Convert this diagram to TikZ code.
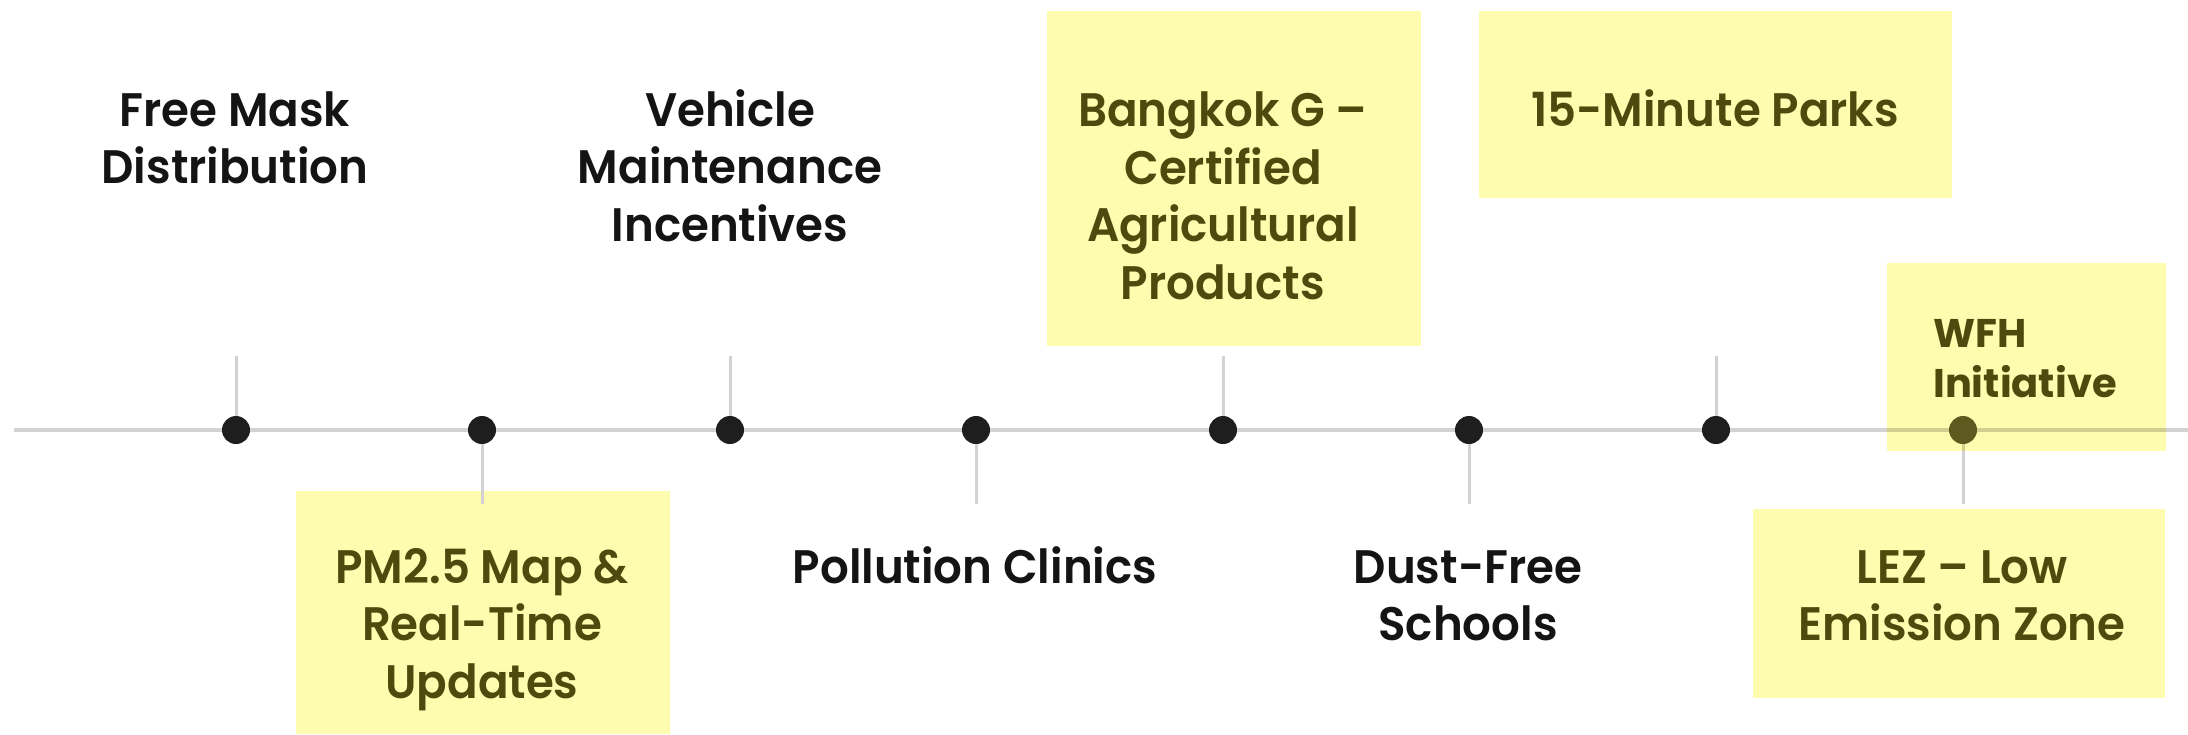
\documentclass[tikz,border=0pt]{standalone}
\usepackage{fontspec}
\setmainfont{Poppins}
\newfontfamily\labfont{Poppins SemiBold}[FakeStretch=0.96]
\newfontfamily\wfhfont{Poppins}
\definecolor{boxyellow}{HTML}{FEFCAF}
\definecolor{ink}{HTML}{141414}
\definecolor{olive}{HTML}{4D4A0E}
\definecolor{linegray}{HTML}{D2D2D2}
\definecolor{dotblack}{HTML}{1E1E1E}
\definecolor{dotolive}{HTML}{5C5A1E}
\begin{document}
\begin{tikzpicture}[x=1pt,y=-1pt,
  hlbox/.style={fill=boxyellow,draw=none},
  lab/.style={font=\labfont\fontsize{47}{57.5}\selectfont,align=center,inner sep=0pt,anchor=base,text=ink},
  hllab/.style={lab,text=olive},
  tick/.style={draw=linegray,line width=3pt},
  axis/.style={draw=linegray,line width=4pt},
  dot/.style={circle,fill=dotblack,draw=none,minimum size=28pt,inner sep=0pt}]
\useasboundingbox (0,0) rectangle (2188,734);
\fill[white] (0,0) rectangle (2188,734);

% highlight boxes
\fill[hlbox] (296,491) rectangle (670,734);
\fill[hlbox] (1047,11) rectangle (1421,346);
\fill[hlbox] (1479,11) rectangle (1952,198);
\fill[hlbox] (1753,509) rectangle (2165,698);

% timeline axis
\coordinate (axL) at (14,430);
\coordinate (axR) at (2188,430);
\draw[axis] (axL) -- (axR);

% milestones
\node[dot] (d1) at (236,430) {};
\node[dot] (d2) at (482,430) {};
\node[dot] (d3) at (730,430) {};
\node[dot] (d4) at (976,430) {};
\node[dot] (d5) at (1223,430) {};
\node[dot] (d6) at (1469,430) {};
\node[dot] (d7) at (1716,430) {};
\coordinate (d8c) at (1963,430);

% stems
\coordinate (t1) at (236,356);
\coordinate (t2) at (482,504);
\coordinate (t3) at (730,356);
\coordinate (t4) at (976,504);
\coordinate (t5) at (1223,356);
\coordinate (t6) at (1469,504);
\coordinate (t7) at (1716,356);
\coordinate (t8) at (1963,504);
\draw[tick] (d1) -- (t1);
\draw[tick] (d2) -- (t2);
\draw[tick] (d3) -- (t3);
\draw[tick] (d4) -- (t4);
\draw[tick] (d5) -- (t5);
\draw[tick] (d6) -- (t6);
\draw[tick] (d7) -- (t7);
\draw[tick] (d8c) -- (t8);

% WFH box tints what lies beneath it
\fill[hlbox,blend mode=multiply] (1887,263) rectangle (2166,451);
\node[dot,fill=dotolive] (d8) at (d8c) {};

% labels (anchored at the baseline of their last line)
\node[lab] (fm) at (235,183.5) {Free Mask\\Distribution};
\node[lab] (veh) at (730,241) {Vehicle\\Maintenance\\Incentives};
\node[hllab] (pm) at (482,698) {PM2.5 Map \&\\Real-Time\\Updates};
\node[lab] (pc) at (975,583) {Pollution Clinics};
\node[hllab] (bg) at (1223,299) {Bangkok G –\\Certified\\Agricultural\\Products};
\node[hllab] (pk) at (1715,126) {15-Minute Parks};
\node[lab] (dfs) at (1468,640.5) {Dust-Free\\Schools};
\node[hllab,font=\wfhfont\bfseries\fontsize{40}{50}\selectfont,align=left,anchor=base west] (wfh) at (1933,397) {WFH\\Initiative};
\node[hllab] (lez) at (1962,640.5) {LEZ – Low\\Emission Zone};
\end{tikzpicture}
\end{document}
